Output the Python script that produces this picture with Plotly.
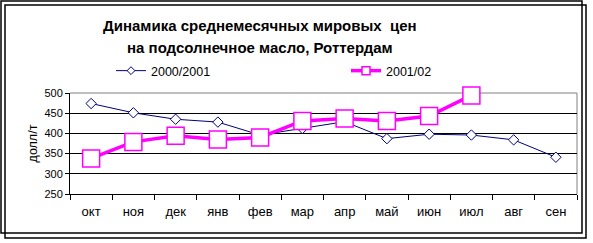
import plotly.graph_objects as go

months = ["окт", "ноя", "дек", "янв", "фев", "мар", "апр", "май", "июн", "июл", "авг", "сен"]
s2000 = [474, 451, 435, 428, 396, 412, 429, 387, 398, 396, 384, 341]
s2001 = [338, 379, 394, 385, 390, 431, 437, 431, 443, 494]
name1 = "2000/2001"
name2 = "2001/02"
title1 = "Динамика среднемесячных мировых  цен"
title2 = "на подсолнечное масло, Роттердам"
ytitle = "долл/т"
yticks = [250, 300, 350, 400, 450, 500]

W, H = 593, 243
L, R, T, B = 70, 16, 93, 49
pw, ph = W - L - R, H - T - B

def px(x):
    return (x - L) / pw

def py(y):
    return (H - B - y) / ph

FONT = "Liberation Sans, Arial, sans-serif"
NAVY = "#000080"
MAG = "#FF00FF"

fig = go.Figure()
fig.add_trace(go.Scatter(x=months, y=s2000, mode="lines+markers", showlegend=False, cliponaxis=False,
                         line=dict(color=NAVY, width=1),
                         marker=dict(symbol="diamond", size=8, color="white",
                                     line=dict(color=NAVY, width=1))))
fig.add_trace(go.Scatter(x=months[:len(s2001)], y=s2001, mode="lines+markers", showlegend=False,
                         cliponaxis=False,
                         line=dict(color=MAG, width=3.5),
                         marker=dict(symbol="square", size=17, color="white",
                                     line=dict(color=MAG, width=1.5))))
# legend-only entries
fig.add_trace(go.Scatter(x=[None], y=[None], mode="lines+markers", name=name1, legend="legend",
                         line=dict(color=NAVY, width=1),
                         marker=dict(symbol="diamond", size=6, color="white",
                                     line=dict(color=NAVY, width=1))))
fig.add_trace(go.Scatter(x=[None], y=[None], mode="lines+markers", name=name2, legend="legend2",
                         line=dict(color=MAG, width=3.5),
                         marker=dict(symbol="square", size=8, color="white",
                                     line=dict(color=MAG, width=1.5))))

shapes = []
for (x0, y0, x1, y1) in [(1, 1, 582, 233), (5, 5, 586, 238)]:
    shapes.append(dict(type="rect", xref="paper", yref="paper",
                       x0=px(x0), y0=py(y0), x1=px(x1), y1=py(y1),
                       line=dict(color="black", width=1.5), fillcolor="rgba(0,0,0,0)", layer="above"))
# gray plot border on top/right
shapes.append(dict(type="line", xref="paper", yref="paper", x0=0, y0=1, x1=1, y1=1,
                   line=dict(color="#808080", width=1), layer="below"))
shapes.append(dict(type="line", xref="paper", yref="paper", x0=1, y0=0, x1=1, y1=1,
                   line=dict(color="#808080", width=1), layer="below"))

annotations = [
    dict(text="<b>" + title1 + "</b>", xref="paper", yref="paper", x=px(260), y=py(25),
         xanchor="center", yanchor="middle", showarrow=False, font=dict(size=15, color="black", family=FONT)),
    dict(text="<b>" + title2 + "</b>", xref="paper", yref="paper", x=px(260), y=py(47),
         xanchor="center", yanchor="middle", showarrow=False, font=dict(size=15, color="black", family=FONT)),
]

fig.update_layout(
    width=W, height=H,
    margin=dict(l=L, r=R, t=T, b=B, pad=0),
    paper_bgcolor="white", plot_bgcolor="white",
    font=dict(family=FONT, color="black", size=12),
    shapes=shapes, annotations=annotations,
    legend=dict(x=px(111), y=py(71), xanchor="left", yanchor="middle", orientation="h",
                bgcolor="rgba(0,0,0,0)", font=dict(size=12.5, family=FONT, color="black")),
    legend2=dict(x=px(346), y=py(71), xanchor="left", yanchor="middle", orientation="h",
                 bgcolor="rgba(0,0,0,0)", font=dict(size=12.5, family=FONT, color="black")),
    xaxis=dict(type="category", categoryorder="array", categoryarray=months,
               range=[-0.5, 11.5], showgrid=False, tickson="boundaries", ticks="outside",
               ticklen=5, tickcolor="black", showline=True, linecolor="black", linewidth=1,
               mirror=False, tickfont=dict(size=13, family=FONT, color="black"),
               ticklabelstandoff=5),
    yaxis=dict(range=[250, 500], tickvals=yticks, showgrid=True, gridcolor="black", gridwidth=1,
               ticks="outside", ticklen=4, tickcolor="black", showline=True, linecolor="black",
               linewidth=1, zeroline=False, tickfont=dict(size=11, family=FONT, color="black"),
               title=dict(text=ytitle, font=dict(size=12.5, family=FONT, color="black"), standoff=4)),
)

fig.write_html("out.html")
